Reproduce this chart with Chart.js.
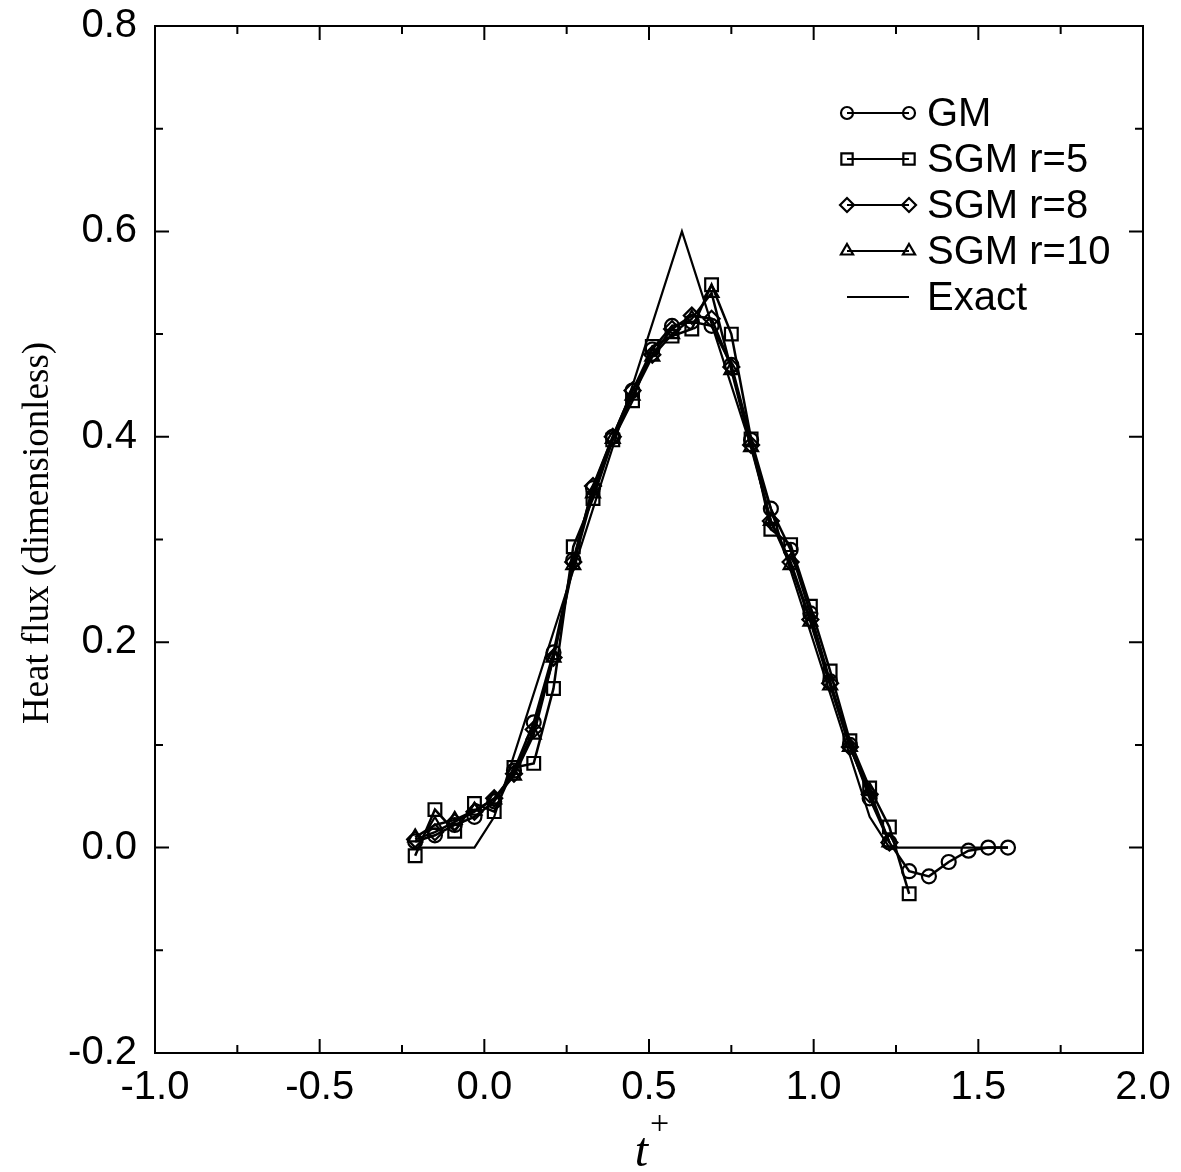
<!DOCTYPE html>
<html>
<head>
<meta charset="utf-8">
<script src="https://cdn.jsdelivr.net/npm/chart.js@4.4.1/dist/chart.umd.min.js"></script>
<style>
  html, body { margin: 0; padding: 0; background: #fff; }
  #wrap { width: 1181px; height: 1172px; }
</style>
</head>
<body>
<div id="wrap"><canvas id="heatChart" width="1181" height="1172"></canvas></div>
<script>
// 时间网格 t+
const tValues = [-0.21, -0.15, -0.09, -0.03, 0.03, 0.09, 0.15, 0.21, 0.27, 0.33,
                 0.39, 0.45, 0.51, 0.57, 0.63, 0.69, 0.75, 0.81, 0.87, 0.93,
                 0.99, 1.05, 1.11, 1.17, 1.23, 1.29, 1.35, 1.41, 1.47, 1.53, 1.59];

// 各方法的热流值
const gmValues = [0.006, 0.012, 0.022, 0.030, 0.045, 0.075, 0.122, 0.190, 0.280, 0.350,
                  0.400, 0.445, 0.485, 0.508, 0.512, 0.508, 0.470, 0.397, 0.330, 0.290,
                  0.228, 0.162, 0.100, 0.048, 0.005, -0.023, -0.028, -0.014, -0.003, 0.000, 0.000];
const sgm5Values = [-0.008, 0.037, 0.016, 0.043, 0.035, 0.078, 0.082, 0.155, 0.293, 0.340,
                    0.397, 0.435, 0.488, 0.498, 0.505, 0.548, 0.500, 0.398, 0.310, 0.295,
                    0.235, 0.172, 0.104, 0.058, 0.020, -0.045];
const sgm8Values = [0.008, 0.015, 0.025, 0.035, 0.048, 0.072, 0.115, 0.185, 0.278, 0.352,
                    0.400, 0.445, 0.480, 0.505, 0.518, 0.515, 0.468, 0.392, 0.318, 0.278,
                    0.222, 0.160, 0.098, 0.052, 0.005];
const sgm10Values = [0.010, 0.022, 0.027, 0.036, 0.047, 0.070, 0.110, 0.185, 0.275, 0.345,
                     0.398, 0.440, 0.478, 0.500, 0.515, 0.540, 0.465, 0.390, 0.318, 0.275,
                     0.220, 0.158, 0.098, 0.055, 0.005];

// 精确解
const exactT = [-0.21, -0.03, 0.03, 0.60, 1.17, 1.23, 1.59];
const exactQ = [0, 0, 0.03, 0.60, 0.03, 0, 0];

// 坐标轴
const xTickValues = [-1.0, -0.5, 0.0, 0.5, 1.0, 1.5, 2.0];
const yTickValues = [-0.2, 0.0, 0.2, 0.4, 0.6, 0.8];

const seriesLabels = ['GM', 'SGM r=5', 'SGM r=8', 'SGM r=10', 'Exact'];

function toPoints(xs, ys) {
    return ys.map((y, i) => ({ x: xs[i], y: y }));
}

function fmt(v) {
    if (Math.abs(v) < 1e-9) return '0.0';
    return v.toFixed(1);
}

const markerBase = {
    borderColor: '#000',
    backgroundColor: 'rgba(0,0,0,0)',
    pointBackgroundColor: 'rgba(0,0,0,0)',
    pointBorderColor: '#000',
    pointBorderWidth: 2.2,
    borderWidth: 2.5,
    showLine: true,
    tension: 0
};

const datasets = [
    {
        label: seriesLabels[4],
        data: toPoints(exactT, exactQ),
        borderColor: '#000',
        borderWidth: 2.2,
        pointRadius: 0,
        showLine: true
    },
    Object.assign({}, markerBase, { label: seriesLabels[0], data: toPoints(tValues, gmValues), pointStyle: 'circle', pointRadius: 7 }),
    Object.assign({}, markerBase, { label: seriesLabels[1], data: toPoints(tValues, sgm5Values), pointStyle: 'rect', pointRadius: 9 }),
    Object.assign({}, markerBase, { label: seriesLabels[2], data: toPoints(tValues, sgm8Values), pointStyle: 'rectRot', pointRadius: 8 }),
    Object.assign({}, markerBase, { label: seriesLabels[3], data: toPoints(tValues, sgm10Values), pointStyle: 'triangle', pointRadius: 8 })
];

// 边框与内向刻度
const frameTicks = {
    id: 'frameTicks',
    afterDatasetsDraw(chart) {
        const { ctx, chartArea: a, scales } = chart;
        const xs = scales.x, ys = scales.y;
        ctx.save();
        ctx.strokeStyle = '#000';
        ctx.lineWidth = 2;
        ctx.strokeRect(a.left, a.top, a.right - a.left, a.bottom - a.top);
        ctx.beginPath();
        for (let v = -1.0; v <= 2.0001; v += 0.25) {
            const px = xs.getPixelForValue(v);
            const major = Math.abs(v * 2 - Math.round(v * 2)) < 1e-6;
            const len = major ? 14 : 8;
            ctx.moveTo(px, a.bottom); ctx.lineTo(px, a.bottom - len);
            ctx.moveTo(px, a.top); ctx.lineTo(px, a.top + len);
        }
        for (let v = -0.2; v <= 0.8001; v += 0.1) {
            const py = ys.getPixelForValue(v);
            const major = Math.abs(v * 5 - Math.round(v * 5)) < 1e-6;
            const len = major ? 14 : 8;
            ctx.moveTo(a.left, py); ctx.lineTo(a.left + len, py);
            ctx.moveTo(a.right, py); ctx.lineTo(a.right - len, py);
        }
        ctx.stroke();
        ctx.restore();
    }
};

// 轴标题与图例
const titlesLegend = {
    id: 'titlesLegend',
    afterDraw(chart) {
        const { ctx, chartArea: a } = chart;
        ctx.save();
        ctx.fillStyle = '#000';

        // y轴标题
        ctx.save();
        ctx.translate(38, 533);
        ctx.rotate(-Math.PI / 2);
        ctx.font = '37px "Liberation Serif", "Times New Roman", serif';
        ctx.textAlign = 'center';
        ctx.textBaseline = 'middle';
        ctx.fillText('Heat flux (dimensionless)', 0, 0);
        ctx.restore();

        // x轴标题 t+
        const cx = (a.left + a.right) / 2;
        ctx.font = 'italic 48px "Liberation Serif", "Times New Roman", serif';
        ctx.textAlign = 'right';
        ctx.textBaseline = 'alphabetic';
        ctx.fillText('t', cx - 1, 1166);
        ctx.font = '34px "Liberation Serif", "Times New Roman", serif';
        ctx.textAlign = 'left';
        ctx.fillText('+', cx + 1, 1134);

        // 图例
        const order = [1, 2, 3, 4, 0];
        const x0 = 847, x1 = 909, textX = 927;
        ctx.font = '40px "Liberation Sans", Arial, sans-serif';
        ctx.textBaseline = 'middle';
        order.forEach((di, row) => {
            const ds = chart.data.datasets[di];
            const y = 113 + row * 46;
            ctx.strokeStyle = '#000';
            ctx.lineWidth = 2.2;
            ctx.beginPath();
            ctx.moveTo(x0, y); ctx.lineTo(x1, y);
            ctx.stroke();
            if (ds.pointRadius > 0) {
                ctx.fillStyle = 'rgba(0,0,0,0)';
                const opts = { pointStyle: ds.pointStyle, radius: ds.pointRadius - 1, rotation: 0, borderWidth: 2 };
                Chart.helpers.drawPoint(ctx, opts, x0, y);
                Chart.helpers.drawPoint(ctx, opts, x1, y);
            }
            ctx.fillStyle = '#000';
            ctx.textAlign = 'left';
            ctx.fillText(ds.label, textX, y + 2);
        });
        ctx.restore();
    }
};

const tickFont = { family: '"Liberation Sans", Arial, sans-serif', size: 40 };

const heatChart = new Chart(document.getElementById('heatChart').getContext('2d'), {
    type: 'scatter',
    data: { datasets: datasets },
    options: {
        responsive: false,
        animation: false,
        layout: { padding: { top: 26, right: 38, left: 0, bottom: 0 } },
        plugins: {
            legend: { display: false },
            tooltip: { enabled: false }
        },
        scales: {
            x: {
                type: 'linear',
                min: -1.0,
                max: 2.0,
                afterBuildTicks: (scale) => { scale.ticks = xTickValues.map(v => ({ value: v })); },
                afterFit: (scale) => {
                    scale.height = 119;
                    scale.paddingLeft = 0;
                    scale.paddingRight = 0;
                },
                grid: { display: false },
                border: { display: false },
                ticks: {
                    color: '#000',
                    font: tickFont,
                    padding: 3,
                    autoSkip: false,
                    maxRotation: 0,
                    callback: (v) => fmt(v)
                }
            },
            y: {
                type: 'linear',
                min: -0.2,
                max: 0.8,
                afterBuildTicks: (scale) => { scale.ticks = yTickValues.map(v => ({ value: v })); },
                afterFit: (scale) => {
                    scale.width = 155;
                    scale.paddingTop = 0;
                    scale.paddingBottom = 0;
                },
                grid: { display: false },
                border: { display: false },
                ticks: {
                    color: '#000',
                    font: tickFont,
                    padding: 10,
                    autoSkip: false,
                    callback: (v) => fmt(v)
                }
            }
        }
    },
    plugins: [frameTicks, titlesLegend]
});
</script>
</body>
</html>
